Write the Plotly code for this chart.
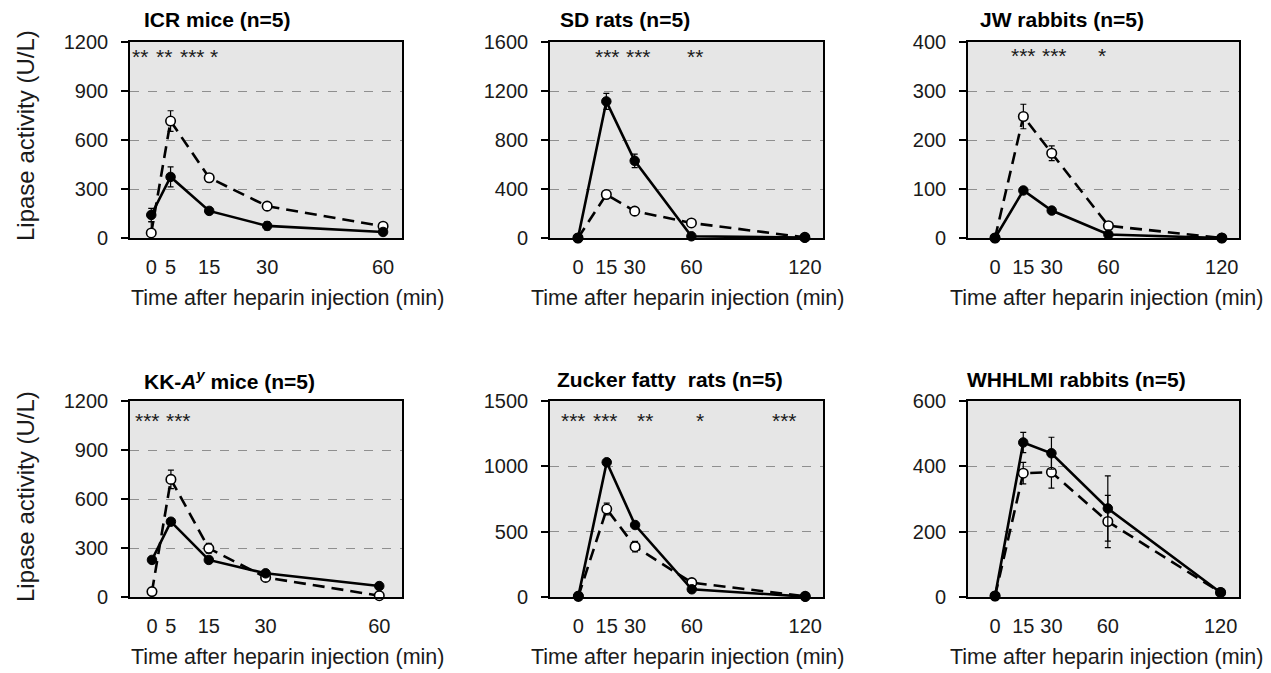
import plotly.graph_objects as go

# ---------------- data ----------------
panel_titles = ["ICR mice (n=5)", "SD rats (n=5)", "JW rabbits (n=5)",
                "KK-<i>A</i><sup><i>y</i></sup> mice (n=5)", "Zucker fatty  rats (n=5)", "WHHLMI rabbits (n=5)"]

icr_t = [0, 5, 15, 30, 60]
icr_solid = [141, 374, 166, 74, 37]
icr_solid_err = [40, 61, 12, 25, 8]
icr_open = [31, 716, 369, 195, 72]
icr_open_err = [67, 63, 20, 22, 10]
icr_sig_x = [-2.8, 3.3, 10.7, 16.3]
icr_sig = ["**", "**", "***", "*"]

sd_t = [0, 15, 30, 60, 120]
sd_solid = [0, 1115, 630, 14, 3]
sd_solid_err = [0, 65, 55, 5, 2]
sd_open = [0, 355, 219, 123, 5]
sd_open_err = [0, 25, 10, 10, 2]
sd_sig_x = [15.5, 32, 62]
sd_sig = ["***", "***", "**"]

jw_t = [0, 15, 30, 60, 120]
jw_solid = [0, 97, 56, 7, 0]
jw_solid_err = [0, 4, 4, 3, 0]
jw_open = [0, 248, 173, 25, 0]
jw_open_err = [0, 25, 15, 4, 0]
jw_sig_x = [15, 31.4, 56.5]
jw_sig = ["***", "***", "*"]

kk_t = [0, 5, 15, 30, 60]
kk_solid = [227, 461, 227, 145, 67]
kk_solid_err = [10, 15, 12, 10, 8]
kk_open = [33, 720, 298, 120, 8]
kk_open_err = [5, 57, 30, 10, 3]
kk_sig_x = [-1.1, 7]
kk_sig = ["***", "***"]

zk_t = [0, 15, 30, 60, 120]
zk_solid = [8, 1031, 551, 59, 3]
zk_solid_err = [3, 20, 20, 8, 2]
zk_open = [5, 673, 385, 110, 5]
zk_open_err = [3, 45, 40, 10, 2]
zk_sig_x = [-2.7, 14.5, 35, 64.6, 108.8]
zk_sig = ["***", "***", "**", "*", "***"]

wh_t = [0, 15, 30, 60, 120]
wh_solid = [3, 473, 440, 271, 14]
wh_solid_err = [1, 31, 49, 100, 5]
wh_open = [3, 379, 382, 231, 14]
wh_open_err = [1, 33, 49, 80, 5]
wh_sig_x = []
wh_sig = []

y_max = [1200, 1600, 400, 1200, 1500, 600]
y_step = [300, 400, 100, 300, 500, 200]
sig_y = [1112, 1484, 372, 1078, 1347, None]

x_title = "Time after heparin injection (min)"
y_title = "Lipase activity (U/L)"

panels = [
    (icr_t, icr_solid, icr_solid_err, icr_open, icr_open_err, icr_sig_x, icr_sig),
    (sd_t, sd_solid, sd_solid_err, sd_open, sd_open_err, sd_sig_x, sd_sig),
    (jw_t, jw_solid, jw_solid_err, jw_open, jw_open_err, jw_sig_x, jw_sig),
    (kk_t, kk_solid, kk_solid_err, kk_open, kk_open_err, kk_sig_x, kk_sig),
    (zk_t, zk_solid, zk_solid_err, zk_open, zk_open_err, zk_sig_x, zk_sig),
    (wh_t, wh_solid, wh_solid_err, wh_open, wh_open_err, wh_sig_x, wh_sig),
]

# ---------------- layout geometry (screen pixels) ----------------
OFF = 8                      # page body margin
W, H = 1271 - OFF, 673 - OFF
col_px = [(130, 402), (550, 823), (968, 1239)]
row_px = [(42, 238), (401, 597)]
x_ranges = [[-5.5, 64.9], [-14.8, 129.6], [-14.3, 129.1],
            [-5.8, 66.0], [-15.0, 129.4], [-14.4, 129.8]]
title_px = [(142, 20), (558, 20), (978, 20), (142, 380), (555, 380), (965, 380)]
xtitle_px = [(287, 298), (687, 298), (1106, 298), (287, 657), (687, 657), (1106, 657)]
ytitle_px = [(25, 136), (25, 497)]


def fx(px):
    return (px - OFF) / W


def fy(py):
    return 1 - (py - OFF) / H


FONT = "Liberation Sans, Arial, sans-serif"
TXT = "#1a1a1a"

fig = go.Figure()
layout = dict(width=W, height=H, margin=dict(l=0, r=0, t=0, b=0, autoexpand=False),
              paper_bgcolor="white", plot_bgcolor="white", showlegend=False,
              font=dict(family=FONT, color=TXT))
annotations = []
shapes = []

for i, (t, s, se, o, oe, sx, sl) in enumerate(panels):
    r, c = divmod(i, 3)
    n = i + 1
    xa = "x" if n == 1 else f"x{n}"
    ya = "y" if n == 1 else f"y{n}"
    xk = "xaxis" if n == 1 else f"xaxis{n}"
    yk = "yaxis" if n == 1 else f"yaxis{n}"
    x0, x1 = col_px[c]
    y0, y1 = row_px[r]
    layout[xk] = dict(domain=[fx(x0), fx(x1)], range=x_ranges[i], anchor=ya,
                      tickvals=t, ticktext=[str(v) for v in t], automargin=False,
                      showgrid=False, zeroline=False, showline=True, mirror=True,
                      linecolor="black", linewidth=1.6, ticks="", ticklabelstandoff=10,
                      tickfont=dict(size=20, color=TXT, family=FONT), fixedrange=True)
    ticks = list(range(0, y_max[i] + 1, y_step[i]))
    layout[yk] = dict(domain=[fy(y1), fy(y0)], range=[0, y_max[i]], anchor=xa,
                      tickvals=ticks, ticktext=[str(v) for v in ticks], automargin=False,
                      showgrid=True, gridcolor="#8f8f8f", griddash="dash", gridwidth=1,
                      zeroline=False, showline=True, mirror=True,
                      linecolor="black", linewidth=1.6, ticks="outside", ticklen=7,
                      tickcolor="black", tickwidth=1.6, ticklabelstandoff=9,
                      tickfont=dict(size=20, color=TXT, family=FONT), fixedrange=True)
    # grey plot background
    shapes.append(dict(type="rect", xref=f"{xa} domain", yref=f"{ya} domain",
                       x0=0, x1=1, y0=0, y1=1, fillcolor="#e6e6e6",
                       line=dict(width=0), layer="below"))
    # open (dashed) series
    fig.add_trace(go.Scatter(
        x=t, y=o, xaxis=xa, yaxis=ya, mode="lines+markers",
        line=dict(color="black", width=2.6, dash="12px,7px"),
        marker=dict(symbol="circle", size=9.5, color="white",
                    line=dict(color="black", width=1.6)),
        error_y=dict(type="data", array=oe, color="black", thickness=1.2, width=3),
        cliponaxis=False))
    # solid (filled) series
    fig.add_trace(go.Scatter(
        x=t, y=s, xaxis=xa, yaxis=ya, mode="lines+markers",
        line=dict(color="black", width=2.6),
        marker=dict(symbol="circle", size=9.5, color="black",
                    line=dict(color="black", width=1)),
        error_y=dict(type="data", array=se, color="black", thickness=1.2, width=3),
        cliponaxis=False))
    # significance stars
    for xv, lab in zip(sx, sl):
        annotations.append(dict(x=xv, y=sig_y[i], xref=xa, yref=ya, text=lab,
                                showarrow=False, xanchor="center", yanchor="middle",
                                font=dict(size=21, color=TXT, family=FONT)))
    # panel title
    tx, ty = title_px[i]
    annotations.append(dict(x=fx(tx), y=fy(ty), xref="paper", yref="paper",
                            text=f"<b>{panel_titles[i]}</b>", showarrow=False,
                            xanchor="left", yanchor="middle",
                            font=dict(size=21, color="black", family=FONT)))
    # x-axis title
    qx, qy = xtitle_px[i]
    annotations.append(dict(x=fx(qx), y=fy(qy), xref="paper", yref="paper",
                            text=x_title, showarrow=False, xanchor="center",
                            yanchor="middle", font=dict(size=21.5, color=TXT, family=FONT)))

for (px, py) in ytitle_px:
    annotations.append(dict(x=fx(px), y=fy(py), xref="paper", yref="paper",
                            text=y_title, showarrow=False, textangle=-90,
                            xanchor="center", yanchor="middle",
                            font=dict(size=24, color=TXT, family=FONT)))

layout["annotations"] = annotations
layout["shapes"] = shapes
fig.update_layout(**layout)
fig.write_html("out.html")
